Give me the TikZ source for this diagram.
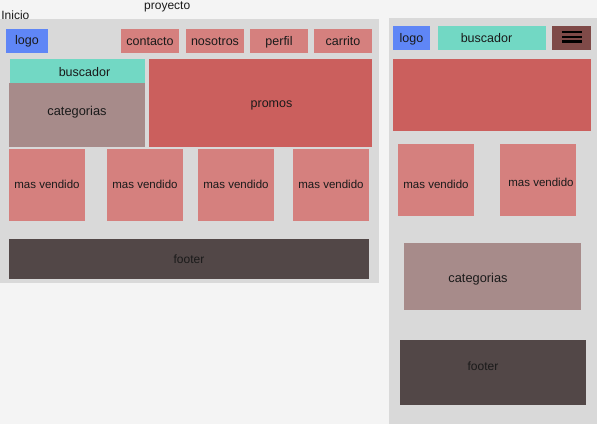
\documentclass[tikz,border=0pt]{standalone}
\usepackage{fontspec}
\setmainfont{Liberation Sans}
\definecolor{bgc}{HTML}{F4F4F4}
\definecolor{framec}{HTML}{D9D9D9}
\definecolor{logoc}{HTML}{5F86F6}
\definecolor{tealc}{HTML}{72D8C4}
\definecolor{pinkc}{HTML}{D5807E}
\definecolor{promoc}{HTML}{CB5F5D}
\definecolor{catc}{HTML}{A78B8A}
\definecolor{footc}{HTML}{524747}
\definecolor{hambc}{HTML}{7F4A48}
\definecolor{txtc}{HTML}{1A1A1A}
\tikzset{
  vs/.style={text height={(12.5+(#1))*1pt}, text depth={(5.5-(#1))*1pt}},
  box/.style={anchor=north west, inner sep=0pt, outer sep=0pt, draw=none, text=txtc,
    font=\fontsize{12.5}{14}\selectfont, vs=0},
  small/.style={font=\fontsize{11.5}{13}\selectfont},
  lbl/.style={inner sep=0pt, text=txtc, font=\fontsize{12.5}{14}\selectfont},
}
\begin{document}
\begin{tikzpicture}[x=1pt,y=-1pt]
\fill[bgc] (0,0) rectangle (597,424);
\useasboundingbox (0,0) rectangle (597,424);
% frames
\fill[framec] (0,19) rectangle (379,283);
\fill[framec] (389,18) rectangle (597,424);
% titles
\node[lbl, anchor=base west, font=\fontsize{12}{14}\selectfont] (inicio) at (1.2,19) {Inicio};
\node[lbl, anchor=base west, font=\fontsize{12}{14}\selectfont] (proyecto) at (144,9.5) {proyecto};
% left layout
\node[box, fill=logoc, minimum width=42pt, minimum height=24pt] (logoL) at (6,29) {logo};
\node[box, fill=pinkc, minimum width=58pt, minimum height=24pt, vs=0.5] (contacto) at (121,29) {contacto};
\node[box, fill=pinkc, minimum width=58pt, minimum height=24pt, vs=0.5] (nosotros) at (186,29) {nosotros};
\node[box, fill=pinkc, minimum width=58pt, minimum height=24pt, vs=0.5] (perfil) at (250,29) {perfil};
\node[box, fill=pinkc, minimum width=58pt, minimum height=24pt, vs=0.5] (carrito) at (314,29) {carrito};
\node[box, fill=tealc, minimum width=135pt, minimum height=24pt, vs=1.5] (buscL) at (10,59) {\hspace*{14pt}buscador};
\node[box, fill=catc, minimum width=136pt, minimum height=63.5pt, vs=-3, font=\fontsize{12.8}{14}\selectfont] (catL) at (9,83) {categorias};
\node[box, fill=promoc, minimum width=223pt, minimum height=87.5pt, vs=1.5] (promos) at (149,59) {\hspace*{22pt}promos};
\node[box, fill=pinkc, minimum width=76pt, minimum height=71.5pt, small, vs=0.5] (mv1) at (9,149) {mas vendido};
\node[box, fill=pinkc, minimum width=76pt, minimum height=71.5pt, small, vs=0.5] (mv2) at (107,149) {mas vendido};
\node[box, fill=pinkc, minimum width=76pt, minimum height=71.5pt, small, vs=0.5] (mv3) at (198,149) {mas vendido};
\node[box, fill=pinkc, minimum width=76pt, minimum height=71.5pt, small, vs=0.5] (mv4) at (293,149) {mas vendido};
\node[box, fill=footc, minimum width=360pt, minimum height=40pt, vs=0.5, font=\fontsize{12}{14}\selectfont] (footL) at (9,239) {footer};
% right layout
\node[box, fill=logoc, minimum width=37pt, minimum height=24pt, vs=1] (logoR) at (393,26) {logo};
\node[box, fill=tealc, minimum width=108pt, minimum height=24pt, vs=1] (buscR) at (438,26) {buscador\hspace*{11pt}};
\node[box, fill=hambc, minimum width=39pt, minimum height=24pt] (hamb) at (552,26) {};
\fill[black] (562,31) rectangle (582,33.3);
\fill[black] (562,35.7) rectangle (582,38);
\fill[black] (562,40.3) rectangle (582,42.7);
\node[box, fill=promoc, minimum width=198pt, minimum height=72pt] (promoR) at (393,59) {};
\node[box, fill=pinkc, minimum width=76pt, minimum height=72pt, small, vs=5] (mvR1) at (398,144) {mas vendido};
\node[box, fill=pinkc, minimum width=76pt, minimum height=72pt, small, vs=3] (mvR2) at (500,144) {\hspace*{6pt}mas vendido};
\node[box, fill=catc, minimum width=177pt, minimum height=67pt, vs=2, font=\fontsize{12.8}{14}\selectfont] (catR) at (404,243) {categorias\hspace*{29pt}};
\node[box, fill=footc, minimum width=186pt, minimum height=65pt, vs=-5.5, font=\fontsize{12}{14}\selectfont] (footR) at (400,340) {footer\hspace*{20pt}};
\end{tikzpicture}
\end{document}
